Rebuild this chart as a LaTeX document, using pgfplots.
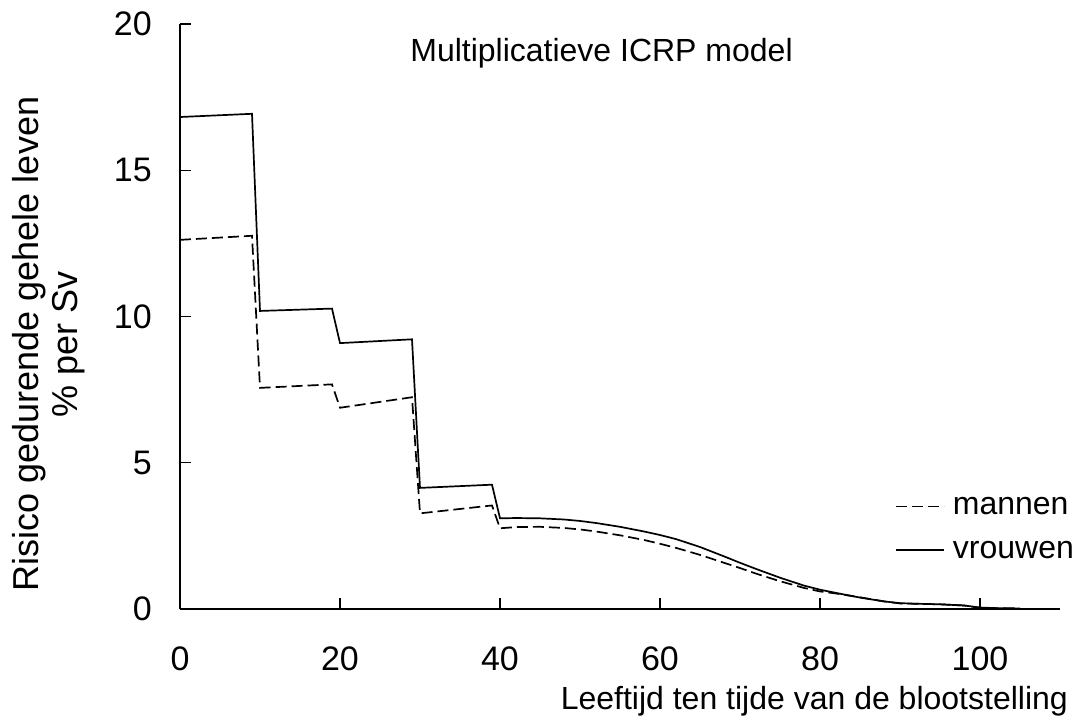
\documentclass[border=0pt]{standalone}
\usepackage{pgfplots}
\pgfplotsset{compat=1.18}
\usepackage{fontspec}
\setmainfont{Liberation Sans}

\pgfplotstableread{
x y
0 12.62
9 12.76
10 7.56
19 7.68
20 6.88
29 7.24
30 3.27
39 3.54
40 2.76
42 2.80
45 2.81
48 2.77
50 2.72
52 2.65
55 2.52
58 2.36
60 2.23
62 2.09
65 1.85
68 1.58
70 1.40
72 1.21
75 0.95
78 0.72
80 0.60
82 0.53
85 0.40
88 0.26
90 0.19
92 0.18
95 0.16
98 0.12
100 0.04
102 0.03
105 0.01
}\mannen

\pgfplotstableread{
x y
0 16.82
9 16.93
10 10.19
19 10.27
20 9.09
29 9.22
30 4.14
39 4.25
40 3.10
42 3.11
45 3.10
48 3.06
50 3.01
52 2.94
55 2.81
58 2.65
60 2.53
62 2.39
65 2.12
68 1.80
70 1.58
72 1.37
75 1.07
78 0.80
80 0.66
82 0.55
85 0.39
88 0.26
90 0.20
92 0.18
95 0.16
98 0.12
100 0.05
102 0.03
105 0.02
}\vrouwen

\begin{document}
\begin{tikzpicture}
\useasboundingbox (-180bp,-113bp) rectangle (897bp,609bp);
\begin{axis}[
  scale only axis,
  width=880bp, height=585bp,
  xmin=0, xmax=110, ymin=0, ymax=20,
  axis lines*=left,
  axis line style={line width=1.5bp},
  tick align=inside,
  major tick length=11bp,
  tick style={line width=1.3bp, black},
  xtick={0,20,40,60,80,100},
  ytick={0,5,10,15,20},
  clip=false,
  /pgf/number format/assume math mode=true,
  ticklabel style={font=\fontsize{34bp}{40bp}\selectfont},
  yticklabel style={anchor=east, inner sep=0pt, xshift=-28bp},
  xticklabel style={anchor=north, inner sep=0pt, yshift=-38bp},
  xlabel={Leeftijd ten tijde van de blootstelling},
  xlabel style={at={(axis description cs:1.00909,-0.1726)}, anchor=base east, inner sep=0pt, font=\fontsize{32bp}{38bp}\selectfont},
  ylabel={Risico gedurende gehele leven\\\% per Sv},
  ylabel style={at={(axis description cs:-0.149,0.453)}, anchor=center, rotate=0, inner sep=0pt, align=center, font=\fontsize{36bp}{39bp}\selectfont},
  title={Multiplicatieve ICRP model},
  title style={at={(axis description cs:0.479,0.9265)}, anchor=base, inner sep=0pt, font=\fontsize{32bp}{38bp}\selectfont},
  legend style={draw=none, fill=none, at={(axis description cs:0.8125,0.1915)}, anchor=north west, inner sep=0pt, row sep=25bp, font=\fontsize{32bp}{38bp}\selectfont, nodes={inner sep=0pt}},
  legend cell align=left,
  legend image code/.code={\draw[#1] (0bp,0bp) -- (48bp,0bp);},
]
\addplot[black, line width=1.7bp, dash pattern=on 11bp off 5bp] table[x=x,y=y] {\mannen};
\addlegendentry{\hspace{8bp}mannen}
\addplot[black, line width=1.7bp] table[x=x,y=y] {\vrouwen};
\addlegendentry{\hspace{8bp}vrouwen}
\end{axis}
\end{tikzpicture}
\end{document}
